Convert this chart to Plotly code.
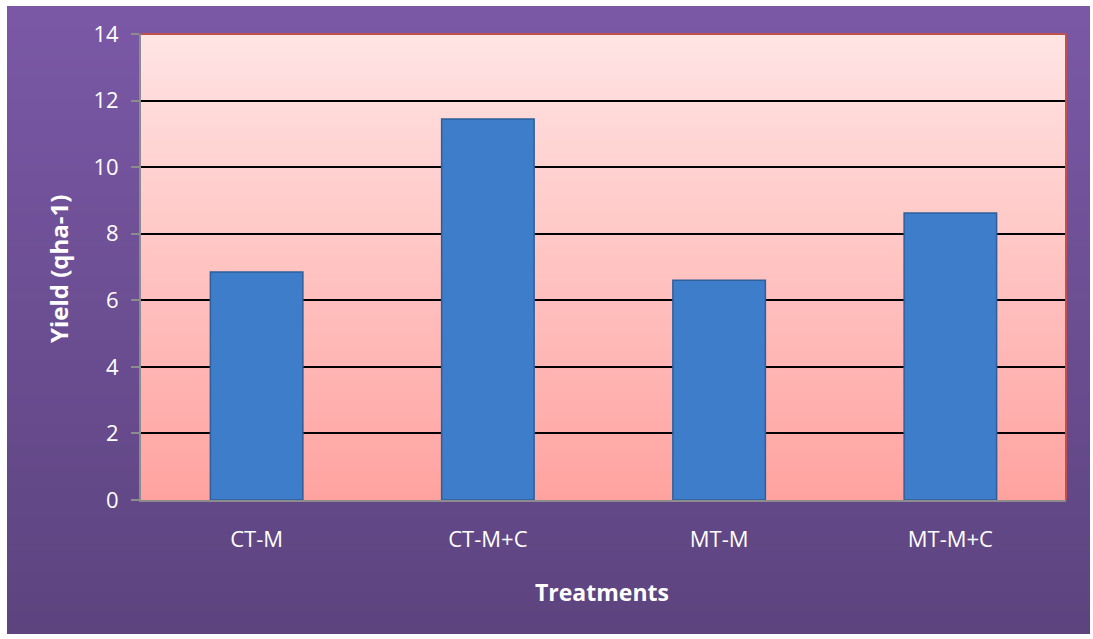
import plotly.graph_objects as go

# Yield by tillage/residue treatment
treatments = ["CT-M", "CT-M+C", "MT-M", "MT-M+C"]
yield_q = [6.85, 11.45, 6.6, 8.62]
y_ticks = [0, 2, 4, 6, 8, 10, 12, 14]

W, H = 1093, 639
L, R, T, B = 141, 27, 34, 139
pw, ph = W - L - R, H - T - B


def px_x(v):
    return (v - L) / pw


def px_y(v):
    return (H - B - v) / ph


def blend(c1, c2, t):
    a = [int(c1[i:i + 2], 16) for i in (1, 3, 5)]
    b = [int(c2[i:i + 2], 16) for i in (1, 3, 5)]
    return "rgb({},{},{})".format(*[round(a[i] + (b[i] - a[i]) * t) for i in range(3)])


shapes = []

# purple card behind the whole chart (vertical gradient, bands overlap to hide seams)
n = 60
top_px, bot_px = 6, 634
for i in range(n):
    y0 = top_px + (bot_px - top_px) * i / n
    y1 = min(bot_px, top_px + (bot_px - top_px) * (i + 1) / n + 4)
    shapes.append(dict(type="rect", xref="paper", yref="paper", layer="below",
                       x0=px_x(7), x1=px_x(1090), y0=px_y(y1), y1=px_y(y0),
                       fillcolor=blend("#7A58A6", "#5D447F", i / (n - 1)), line_width=0))

# pink plot area gradient
m = 70
for i in range(m):
    y0 = 14 * i / m
    y1 = min(14, 14 * (i + 1) / m + 0.1)
    shapes.append(dict(type="rect", xref="x", yref="y", layer="below",
                       x0=-0.5, x1=3.5, y0=y0, y1=y1,
                       fillcolor=blend("#FFA3A0", "#FFE4E4", i / (m - 1)), line_width=0))

# plot area border (top/right in red)
shapes.append(dict(type="line", xref="paper", yref="paper", x0=0, x1=1, y0=1, y1=1,
                   line=dict(color="#C0504D", width=2)))
shapes.append(dict(type="line", xref="paper", yref="paper", x0=1, x1=1, y0=0, y1=1,
                   line=dict(color="#C0504D", width=2)))

fig = go.Figure()
fig.add_trace(go.Bar(
    x=list(range(len(treatments))), y=yield_q, width=0.4,
    marker=dict(color="#3E7DCA", line=dict(color="#2E5F9B", width=1.5)),
    hoverinfo="skip", showlegend=False,
))

font_family = "'Open Sans', sans-serif"

fig.update_layout(
    width=W, height=H,
    margin=dict(l=L, r=R, t=T, b=B),
    paper_bgcolor="white",
    plot_bgcolor="rgba(0,0,0,0)",
    shapes=shapes,
    font=dict(family=font_family, color="white", size=22),
    xaxis=dict(
        range=[-0.5, 3.5], tickvals=list(range(len(treatments))), ticktext=treatments,
        showgrid=False, zeroline=False, showline=True, linecolor="#8C8C8C", linewidth=2,
        ticks="", ticklabelstandoff=19, tickfont=dict(size=22, color="white"),
    ),
    yaxis=dict(
        range=[0, 14], tickvals=y_ticks, showgrid=True, gridcolor="black", gridwidth=1.5,
        zeroline=False, showline=True, linecolor="#8C8C8C", linewidth=2,
        ticks="outside", ticklen=8, tickcolor="#8C8C8C", tickwidth=2,
        ticklabelstandoff=8, tickfont=dict(size=22, color="white"),
    ),
    annotations=[
        dict(text="<b>Treatments</b>", xref="paper", yref="paper",
             x=px_x(602), y=px_y(592), xanchor="center", yanchor="middle",
             showarrow=False,
             font=dict(size=23, color="white", family=font_family)),
        dict(text="<b>Yield (qha-1)</b>", xref="paper", yref="paper",
             x=px_x(58), y=px_y(269), xanchor="center", yanchor="middle",
             showarrow=False, textangle=-90,
             font=dict(size=24, color="white", family=font_family)),
    ],
)

fig.write_html("out.html")
